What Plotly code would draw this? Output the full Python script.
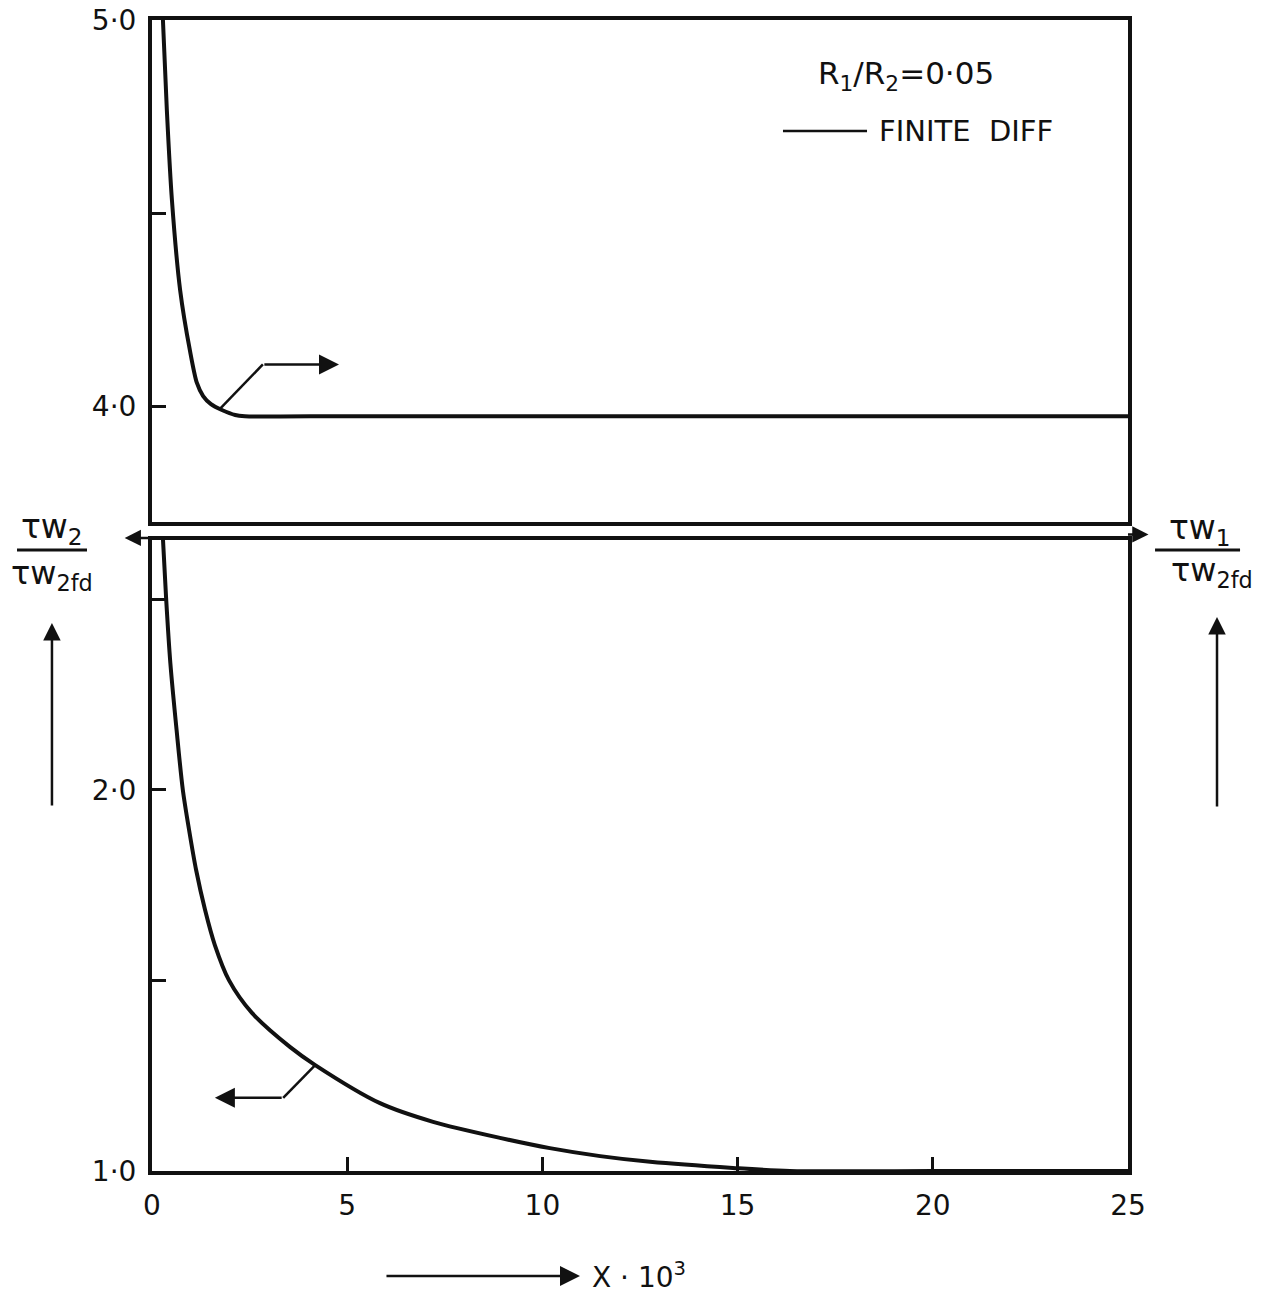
import plotly.graph_objects as go

# ---- data ----
x_top = [0.28, 0.38, 0.51, 0.72, 0.97, 1.15, 1.31, 1.51, 1.79, 2.13, 2.38, 5, 10, 15, 20, 25]
y_top = [5.00, 4.767, 4.534, 4.301, 4.145, 4.060, 4.026, 4.005, 3.990, 3.977, 3.974,
         3.974, 3.974, 3.974, 3.974, 3.974]

x_bot = [0.28, 0.36, 0.47, 0.63, 0.79, 0.95, 1.13, 1.36, 1.61, 1.97, 2.56, 3.54, 4.18,
         5.84, 7.2, 8.91, 10.19, 11.48, 12.76, 14.88, 16.34, 20, 25]
y_bot = [2.66, 2.506, 2.333, 2.157, 2.0, 1.895, 1.790, 1.685, 1.593, 1.501, 1.415, 1.325, 1.278,
         1.178, 1.129, 1.087, 1.060, 1.039, 1.024, 1.008, 1.0, 1.0, 1.0]

x_ticks = [0, 5, 10, 15, 20, 25]
x_ticktext = ["0", "5", "10", "15", "20", "25"]
y_top_ticks = [4.0, 4.5, 5.0]
y_top_ticktext = ["4·0", "", "5·0"]
y_bot_ticks = [1.0, 1.5, 2.0, 2.5]
y_bot_ticktext = ["1·0", "", "2·0", ""]

FONT = "DejaVu Sans"
BLACK = "#111111"

fig = go.Figure()
fig.add_trace(go.Scatter(x=x_top, y=y_top, mode="lines", xaxis="x2", yaxis="y2",
                         line=dict(color=BLACK, width=4, shape="spline", smoothing=0.8),
                         showlegend=False, hoverinfo="skip"))
fig.add_trace(go.Scatter(x=x_bot, y=y_bot, mode="lines", xaxis="x", yaxis="y",
                         line=dict(color=BLACK, width=4, shape="spline", smoothing=0.8),
                         showlegend=False, hoverinfo="skip"))

axis_common = dict(showgrid=False, zeroline=False, showline=True, linecolor=BLACK,
                   linewidth=4, mirror=True, automargin=False)

fig.update_layout(
    width=1276, height=1293,
    margin=dict(l=152, r=148, t=20, b=122, autoexpand=False),
    paper_bgcolor="white", plot_bgcolor="white",
    font=dict(family=FONT, color=BLACK, size=24),
    xaxis=dict(**axis_common, range=[0, 25], tickvals=x_ticks, ticktext=x_ticktext,
               ticks="inside", ticklen=14, tickwidth=3, tickcolor=BLACK,
               ticklabelstandoff=6, tickfont=dict(size=28), domain=[0, 1],
               ticklabeloverflow="allow"),
    yaxis=dict(**axis_common, range=[1.0, 2.656], domain=[0, 0.5482],
               tickvals=y_bot_ticks, ticktext=y_bot_ticktext,
               ticks="inside", ticklen=14, tickwidth=3, tickcolor=BLACK,
               ticklabelstandoff=6, tickfont=dict(size=28), ticklabeloverflow="allow"),
    xaxis2=dict(**axis_common, range=[0, 25], anchor="y2", matches="x",
                showticklabels=False, ticks=""),
    yaxis2=dict(**axis_common, range=[3.70, 5.0], domain=[0.5639, 1], anchor="x2",
                tickvals=y_top_ticks, ticktext=y_top_ticktext,
                ticks="inside", ticklen=14, tickwidth=3, tickcolor=BLACK,
                ticklabelstandoff=6, tickfont=dict(size=28), ticklabeloverflow="allow"),
)

shapes = []
annotations = []

# leader line (top panel) -> arrow pointing right
shapes.append(dict(type="line", xref="x2", yref="y2", x0=1.74, y0=3.993, x1=2.84, y1=4.108,
                   line=dict(color=BLACK, width=2.5)))
annotations.append(dict(xref="x2", yref="y2", axref="x2", ayref="y2", x=4.79, y=4.108,
                        ax=2.84, ay=4.108, showarrow=True, arrowhead=2, arrowsize=1.6,
                        arrowwidth=2.5, arrowcolor=BLACK, text=""))
# leader line (bottom panel) -> arrow pointing left
shapes.append(dict(type="line", xref="x", yref="y", x0=4.18, y0=1.278, x1=3.36, y1=1.192,
                   line=dict(color=BLACK, width=2.5)))
annotations.append(dict(xref="x", yref="y", axref="x", ayref="y", x=1.61, y=1.192,
                        ax=3.36, ay=1.192, showarrow=True, arrowhead=2, arrowsize=1.6,
                        arrowwidth=2.5, arrowcolor=BLACK, text=""))

# break arrows
annotations.append(dict(xref="paper", yref="paper", x=-0.028, y=0.5500, ax=28, ay=0,
                        showarrow=True, arrowhead=2, arrowsize=1.3, arrowwidth=2.5,
                        arrowcolor=BLACK, text=""))
annotations.append(dict(xref="paper", yref="paper", x=1.021, y=0.5530, ax=-22, ay=0,
                        showarrow=True, arrowhead=2, arrowsize=1.3, arrowwidth=2.5,
                        arrowcolor=BLACK, text=""))

# legend-like text
annotations.append(dict(xref="paper", yref="paper", x=0.6800, y=0.9522, xanchor="left",
                        yanchor="middle", showarrow=False,
                        text="R<sub>1</sub>/R<sub>2</sub>=0·05", font=dict(size=31)))
shapes.append(dict(type="line", xref="paper", yref="paper", x0=0.6465, x1=0.7326,
                   y0=0.9036, y1=0.9036, line=dict(color=BLACK, width=2.5)))
annotations.append(dict(xref="paper", yref="paper", x=0.7428, y=0.9036, xanchor="left",
                        yanchor="middle", showarrow=False, text="FINITE  DIFF",
                        font=dict(size=29)))

# left y label (fraction) + up arrow
annotations.append(dict(xref="paper", yref="paper", x=-0.1025, y=0.5585, xanchor="center",
                        yanchor="middle", showarrow=False, text="τw<sub>2</sub>",
                        font=dict(size=33)))
shapes.append(dict(type="line", xref="paper", yref="paper", x0=-0.1383, x1=-0.0666,
                   y0=0.5395, y1=0.5395, line=dict(color=BLACK, width=3)))
annotations.append(dict(xref="paper", yref="paper", x=-0.1025, y=0.5180, xanchor="center",
                        yanchor="middle", showarrow=False, text="τw<sub>2fd</sub>",
                        font=dict(size=32)))
annotations.append(dict(xref="paper", yref="paper", x=-0.1025, y=0.4761, ax=0, ay=184,
                        showarrow=True, arrowhead=2, arrowsize=1.4, arrowwidth=2.5,
                        arrowcolor=BLACK, text=""))

# right y label (fraction) + up arrow
annotations.append(dict(xref="paper", yref="paper", x=1.0738, y=0.5575, xanchor="center",
                        yanchor="middle", showarrow=False, text="τw<sub>1</sub>",
                        font=dict(size=33)))
shapes.append(dict(type="line", xref="paper", yref="paper", x0=1.0277, x1=1.1148,
                   y0=0.5395, y1=0.5395, line=dict(color=BLACK, width=3)))
annotations.append(dict(xref="paper", yref="paper", x=1.0861, y=0.5200, xanchor="center",
                        yanchor="middle", showarrow=False, text="τw<sub>2fd</sub>",
                        font=dict(size=32)))
annotations.append(dict(xref="paper", yref="paper", x=1.0912, y=0.4813, ax=0, ay=191,
                        showarrow=True, arrowhead=2, arrowsize=1.4, arrowwidth=2.5,
                        arrowcolor=BLACK, text=""))

# x label with arrow
annotations.append(dict(xref="paper", yref="paper", x=0.4385, y=-0.0912, ax=-195, ay=0,
                        showarrow=True, arrowhead=2, arrowsize=1.6, arrowwidth=2.5,
                        arrowcolor=BLACK, text=""))
annotations.append(dict(xref="paper", yref="paper", x=0.4488, y=-0.0912, xanchor="left",
                        yanchor="middle", showarrow=False, text="X · 10<sup>3</sup>",
                        font=dict(size=28)))

fig.update_layout(shapes=shapes, annotations=annotations)
fig.write_html("out.html",
               config={"displayModeBar": False},
               post_script="document.body.style.margin='0';document.body.style.padding='0';")
